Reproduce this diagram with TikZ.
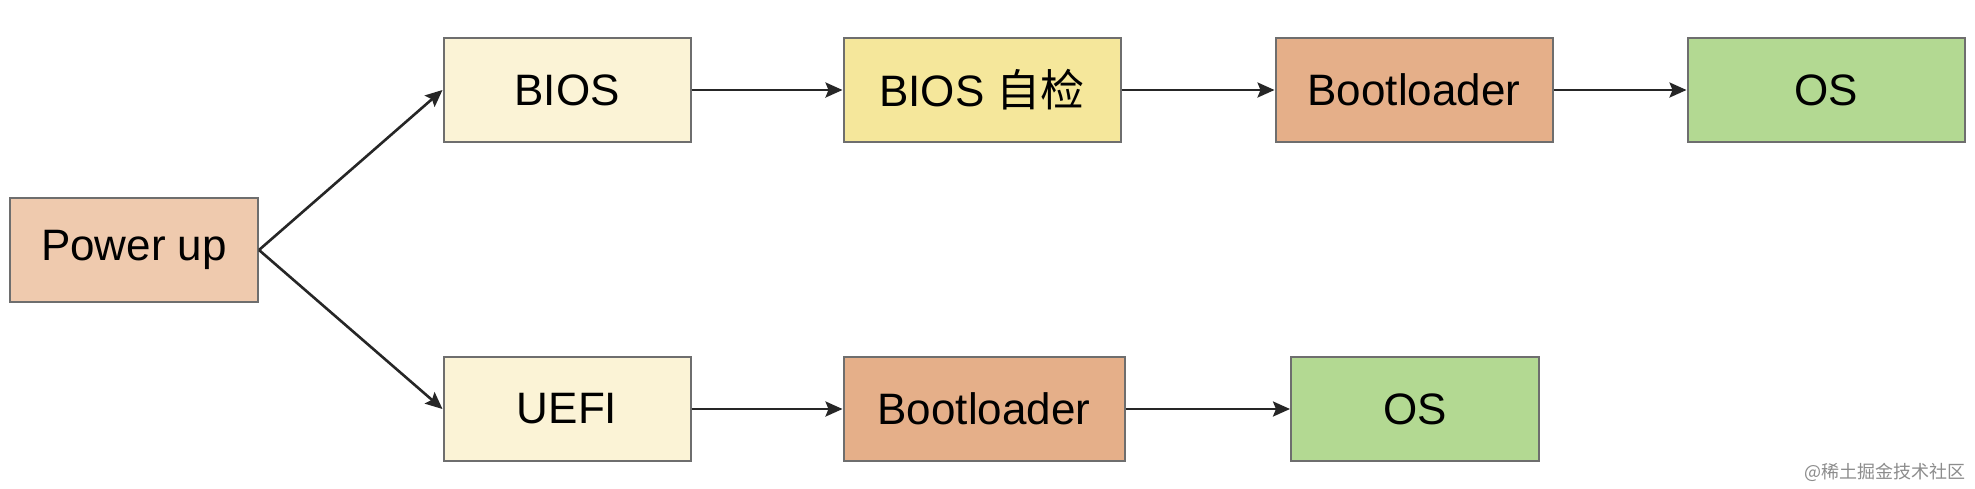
\documentclass[tikz,border=0pt]{standalone}
\usepackage{fontspec}
\setmainfont{Liberation Sans}
\newfontfamily\cjk{Noto Sans CJK SC}
\usetikzlibrary{arrows.meta}
\definecolor{peach}{HTML}{EFCAAE}
\definecolor{cream}{HTML}{FBF3D6}
\definecolor{yel}{HTML}{F5E79B}
\definecolor{boot}{HTML}{E5AF89}
\definecolor{osg}{HTML}{B3D992}
\definecolor{edge}{HTML}{6E6E6E}
\tikzset{
  box/.style={draw=edge, line width=2pt, minimum height=104pt, inner sep=0pt,
    font=\fontsize{44}{48}\selectfont, text=black},
  arr/.style={-{Stealth[length=17pt,width=15pt,inset=3pt]}, line width=2.6pt, black!85},
}
\begin{document}
\begin{tikzpicture}[x=1pt,y=-1pt]
\useasboundingbox[fill=white] (0,0) rectangle (1975,488);
\node[box, fill=peach, minimum width=248pt] (pw) at (134,250) {\raisebox{-3pt}{Power up}};
\node[box, fill=cream, minimum width=247pt] (bios) at (567,90) {\raisebox{-2pt}{BIOS}};
\node[box, fill=yel, minimum width=277pt] (post) at (982,90) {\raisebox{-2pt}{BIOS {\cjk 自检}}};
\node[box, fill=boot, minimum width=277pt] (bl1) at (1414,90) {\raisebox{-2pt}{Bootloader}};
\node[box, fill=osg, minimum width=277pt] (os1) at (1826,90) {\raisebox{-2pt}{OS}};
\node[box, fill=cream, minimum width=247pt] (uefi) at (567,409) {\raisebox{-2pt}{UEFI}};
\node[box, fill=boot, minimum width=281pt] (bl2) at (984,409) {\raisebox{-2pt}{Bootloader}};
\node[box, fill=osg, minimum width=248pt] (os2) at (1415,409) {\raisebox{-2pt}{OS}};
\draw[arr] (pw.east) -- (bios.west);
\draw[arr] (pw.east) -- (uefi.west);
\draw[arr] (bios) -- (post);
\draw[arr] (post) -- (bl1);
\draw[arr] (bl1) -- (os1);
\draw[arr] (uefi) -- (bl2);
\draw[arr] (bl2) -- (os2);
\node[anchor=east, text=black!45, font=\cjk\fontsize{18}{20}\selectfont, inner sep=0pt] (wm) at (1966,472) {@稀土掘金技术社区};
\end{tikzpicture}
\end{document}
